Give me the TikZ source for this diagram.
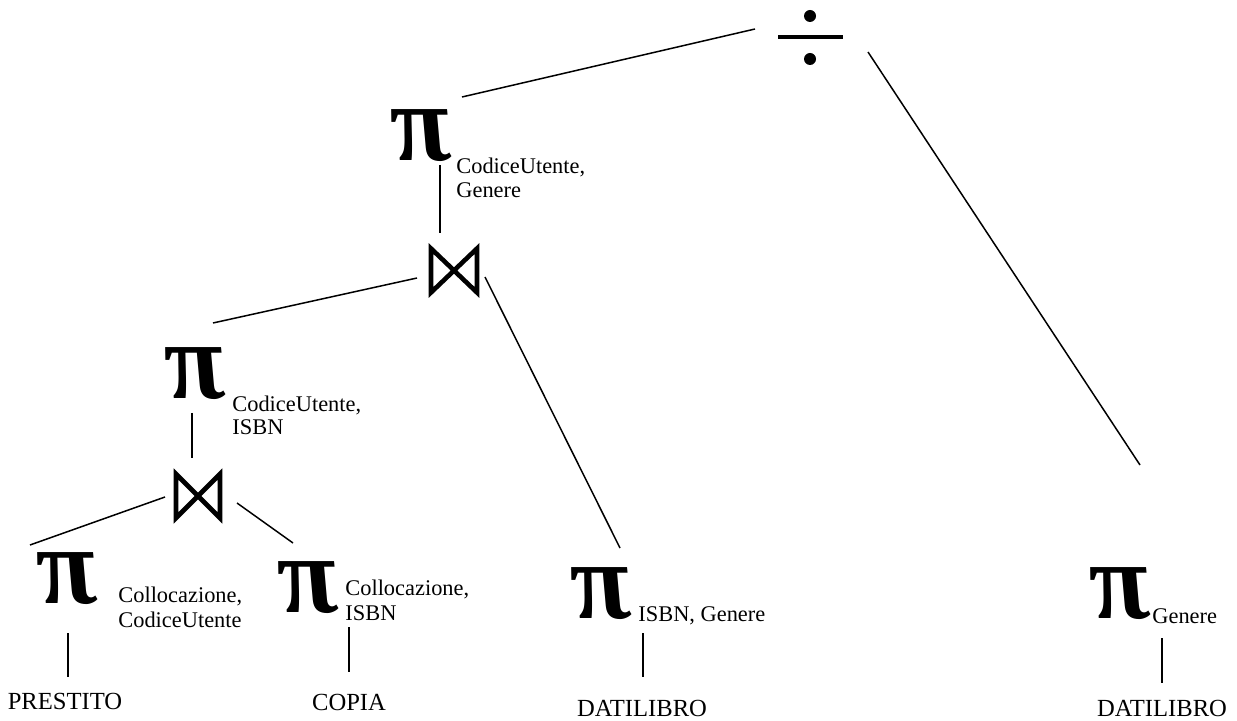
\documentclass[tikz,border=0pt]{standalone}
\usepackage{fontspec}
\setmainfont{Liberation Serif}
\usetikzlibrary{calc}
\tikzset{
  op/.style={inner sep=0pt, outer sep=0pt, xslant=-0.26, transform shape},
  lab/.style={anchor=base west, inner sep=0pt, font=\fontsize{11.2}{13}\selectfont},
  leaf/.style={anchor=base, inner sep=0pt, font=\fontsize{12.3}{14}\selectfont},
  edge/.style={line width=0.75pt},
  jn/.style={line width=2.3pt, line join=miter}
}
\newcommand\piop{\makebox[0pt][c]{\resizebox*{29.5pt}{26pt}{\bfseries\itshape π}}}
\begin{document}
\begin{tikzpicture}[x=0.5pt,y=-0.5pt]
\useasboundingbox (0,0) rectangle (1237,721);
% division
\coordinate (div) at (810,37);
\fill ($(div)+(0,-21)$) circle[radius=3pt];
\fill ($(div)+(0,22)$) circle[radius=3pt];
\fill ($(div)+(-32,-1.8)$) rectangle ($(div)+(33,1.8)$);
% operators
\node[op] (pT) at (422.5,136) {\piop};
\node[op] (pM) at (196.5,374) {\piop};
\node[op] (p1) at (69,579) {\piop};
\node[op] (p2) at (309.5,587.5) {\piop};
\node[op] (p3) at (602.5,594) {\piop};
\node[op] (p4) at (1121.5,594) {\piop};
\coordinate (bT) at (454,270.5);
\coordinate (bM) at (198,496);
\draw[jn, shift={(bT)}] (-23,-22) -- (23,22) -- (23,-22) -- (-23,22) -- cycle;
\draw[jn, shift={(bM)}] (-22,-22) -- (22,22) -- (22,-22) -- (-22,22) -- cycle;
% labels
\node[lab] (lT1) at (456,174) {CodiceUtente,};
\node[lab] (lT2) at (456,198) {Genere};
\node[lab] (lM1) at (232,412) {CodiceUtente,};
\node[lab] (lM2) at (232,435) {ISBN};
\node[lab] (l11) at (118,602) {Collocazione,};
\node[lab] (l12) at (118,627) {CodiceUtente};
\node[lab] (l21) at (345,595) {Collocazione,};
\node[lab] (l22) at (345,620) {ISBN};
\node[lab] (l3) at (638,621) {ISBN, Genere};
\node[lab] (l4) at (1152,623) {Genere};
% leaves
\node[leaf] (r1) at (65,709) {PRESTITO};
\node[leaf] (r2) at (349,710) {COPIA};
\node[leaf] (r3) at (642,716) {DATILIBRO};
\node[leaf] (r4) at (1162,716) {DATILIBRO};
% connectors
\draw[edge] ($(div)+(-55,-8)$) -- ($(pT)+(39.5,-39)$);
\draw[edge] ($(div)+(58,15)$) -- ($(p4)+(18.5,-129)$);
\draw[edge] ($(pT)+(17.5,29)$) -- ($(bT)+(-14,-37.5)$);
\draw[edge] ($(bT)+(-37,7.5)$) -- ($(pM)+(16.5,-51)$);
\draw[edge] ($(bT)+(31,6.5)$) -- ($(p3)+(17.5,-46)$);
\draw[edge] ($(pM)+(-4.5,39)$) -- ($(bM)+(-6,-38)$);
\draw[edge] ($(bM)+(-33,1)$) -- ($(p1)+(-39,-34)$);
\draw[edge] ($(bM)+(39,7)$) -- ($(p2)+(-16.5,-44.5)$);
\draw[edge] ($(p1)+(-1,54)$) -- ($(r1.base)+(3,-32)$);
\draw[edge] ($(p2)+(39.5,39.5)$) -- ($(r2.base)+(0,-38)$);
\draw[edge] ($(p3)+(40.5,39)$) -- ($(r3.base)+(1,-39)$);
\draw[edge] ($(p4)+(40.5,44)$) -- ($(r4.base)+(0,-33)$);
\end{tikzpicture}
\end{document}
